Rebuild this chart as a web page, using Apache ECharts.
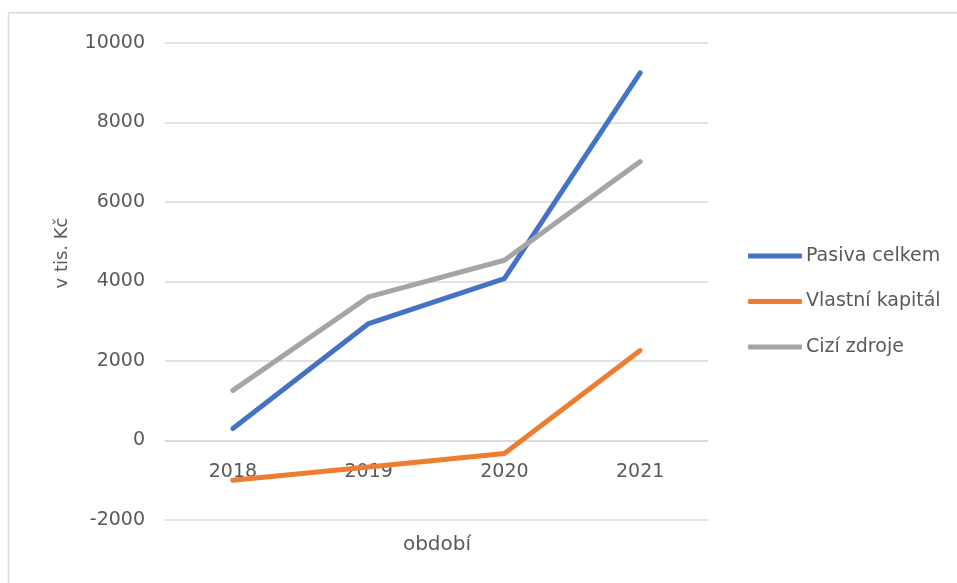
<!DOCTYPE html>
<html>
<head>
<meta charset="utf-8">
<script src="https://cdn.jsdelivr.net/npm/echarts@6/dist/echarts.min.js"></script>
<style>
  html, body { margin: 0; padding: 0; background: #ffffff; }
  #chart { width: 957px; height: 583px; }
</style>
</head>
<body>
<div id="chart"></div>
<script>
// Období (roky)
const years = ['2018', '2019', '2020', '2021'];

// Hodnoty v tis. Kč
const pasivaCelkem = [300, 2940, 4070, 9240];
const vlastniKapital = [-1000, -670, -330, 2260];
const ciziZdroje = [1260, 3610, 4530, 7010];

// Popisky osy Y
const yTicks = [-2000, 0, 2000, 4000, 6000, 8000, 10000];

const seriesNames = ['Pasiva celkem', 'Vlastní kapitál', 'Cizí zdroje'];
const seriesColors = ['#4472C4', '#ED7D31', '#A5A5A5'];
const seriesData = [pasivaCelkem, vlastniKapital, ciziZdroje];

const FONT = 'DejaVu Sans';
const TEXT = '#595959';
const GRID = '#d9d9d9';

const GRID_TOP = 42.7;
const GRID_BOTTOM = 63;
const CHART_H = 583;

// svislá vzdálenost nulové čáry od spodní hrany mřížky (kategorie leží na nule)
const plotH = CHART_H - GRID_TOP - GRID_BOTTOM;
const zeroOffset = plotH * (0 - yTicks[0]) / (yTicks[yTicks.length - 1] - yTicks[0]);

const chart = echarts.init(document.getElementById('chart'), null, { renderer: 'canvas' });

chart.setOption({
  animation: false,
  backgroundColor: '#ffffff',
  textStyle: { fontFamily: FONT },
  grid: { left: 165, right: 249, top: GRID_TOP, bottom: GRID_BOTTOM, containLabel: false },
  legend: {
    orient: 'vertical',
    left: 748,
    top: 246,
    padding: 0,
    icon: 'roundRect',
    itemWidth: 54,
    itemHeight: 5,
    itemGap: 25.5,
    data: seriesNames,
    textStyle: { color: TEXT, fontSize: 19, lineHeight: 20, fontFamily: FONT, padding: [0, 0, 0, -1] }
  },
  xAxis: {
    type: 'category',
    data: years,
    boundaryGap: true,
    position: 'bottom',
    offset: -zeroOffset,
    axisLine: { show: true, onZero: false, lineStyle: { color: GRID, width: 1.5 } },
    axisTick: { show: false },
    axisLabel: { color: TEXT, fontSize: 19, fontFamily: FONT, margin: 22 },
    splitLine: { show: false }
  },
  yAxis: {
    type: 'value',
    min: yTicks[0],
    max: yTicks[yTicks.length - 1],
    interval: yTicks[1] - yTicks[0],
    axisLine: { show: false },
    axisTick: { show: false },
    axisLabel: { color: TEXT, fontSize: 19, fontFamily: FONT, margin: 20, formatter: (v) => String(v) },
    splitLine: { lineStyle: { color: GRID, width: 1.5 } }
  },
  series: seriesNames.map((name, i) => ({
    name: name,
    type: 'line',
    data: seriesData[i],
    symbol: 'none',
    color: seriesColors[i],
    lineStyle: { width: 5, color: seriesColors[i], cap: 'round', join: 'round' }
  })),
  graphic: [
    // rámeček grafu (horní a levá hrana)
    { type: 'line', shape: { x1: 8.5, y1: 12.7, x2: 957, y2: 12.7 }, style: { stroke: GRID, lineWidth: 1.5 }, silent: true },
    { type: 'line', shape: { x1: 8.5, y1: 12.7, x2: 8.5, y2: 583 }, style: { stroke: GRID, lineWidth: 1.5 }, silent: true },
    // název osy Y
    {
      type: 'text',
      x: 62, y: 253,
      rotation: Math.PI / 2,
      style: { text: 'v tis. Kč', fill: TEXT, font: '18px "' + FONT + '"', textAlign: 'center', textVerticalAlign: 'middle' }
    },
    // název osy X
    {
      type: 'text',
      x: 437, y: 545,
      style: { text: 'období', fill: TEXT, font: '20px "' + FONT + '"', textAlign: 'center', textVerticalAlign: 'middle' }
    }
  ]
});
</script>
</body>
</html>
